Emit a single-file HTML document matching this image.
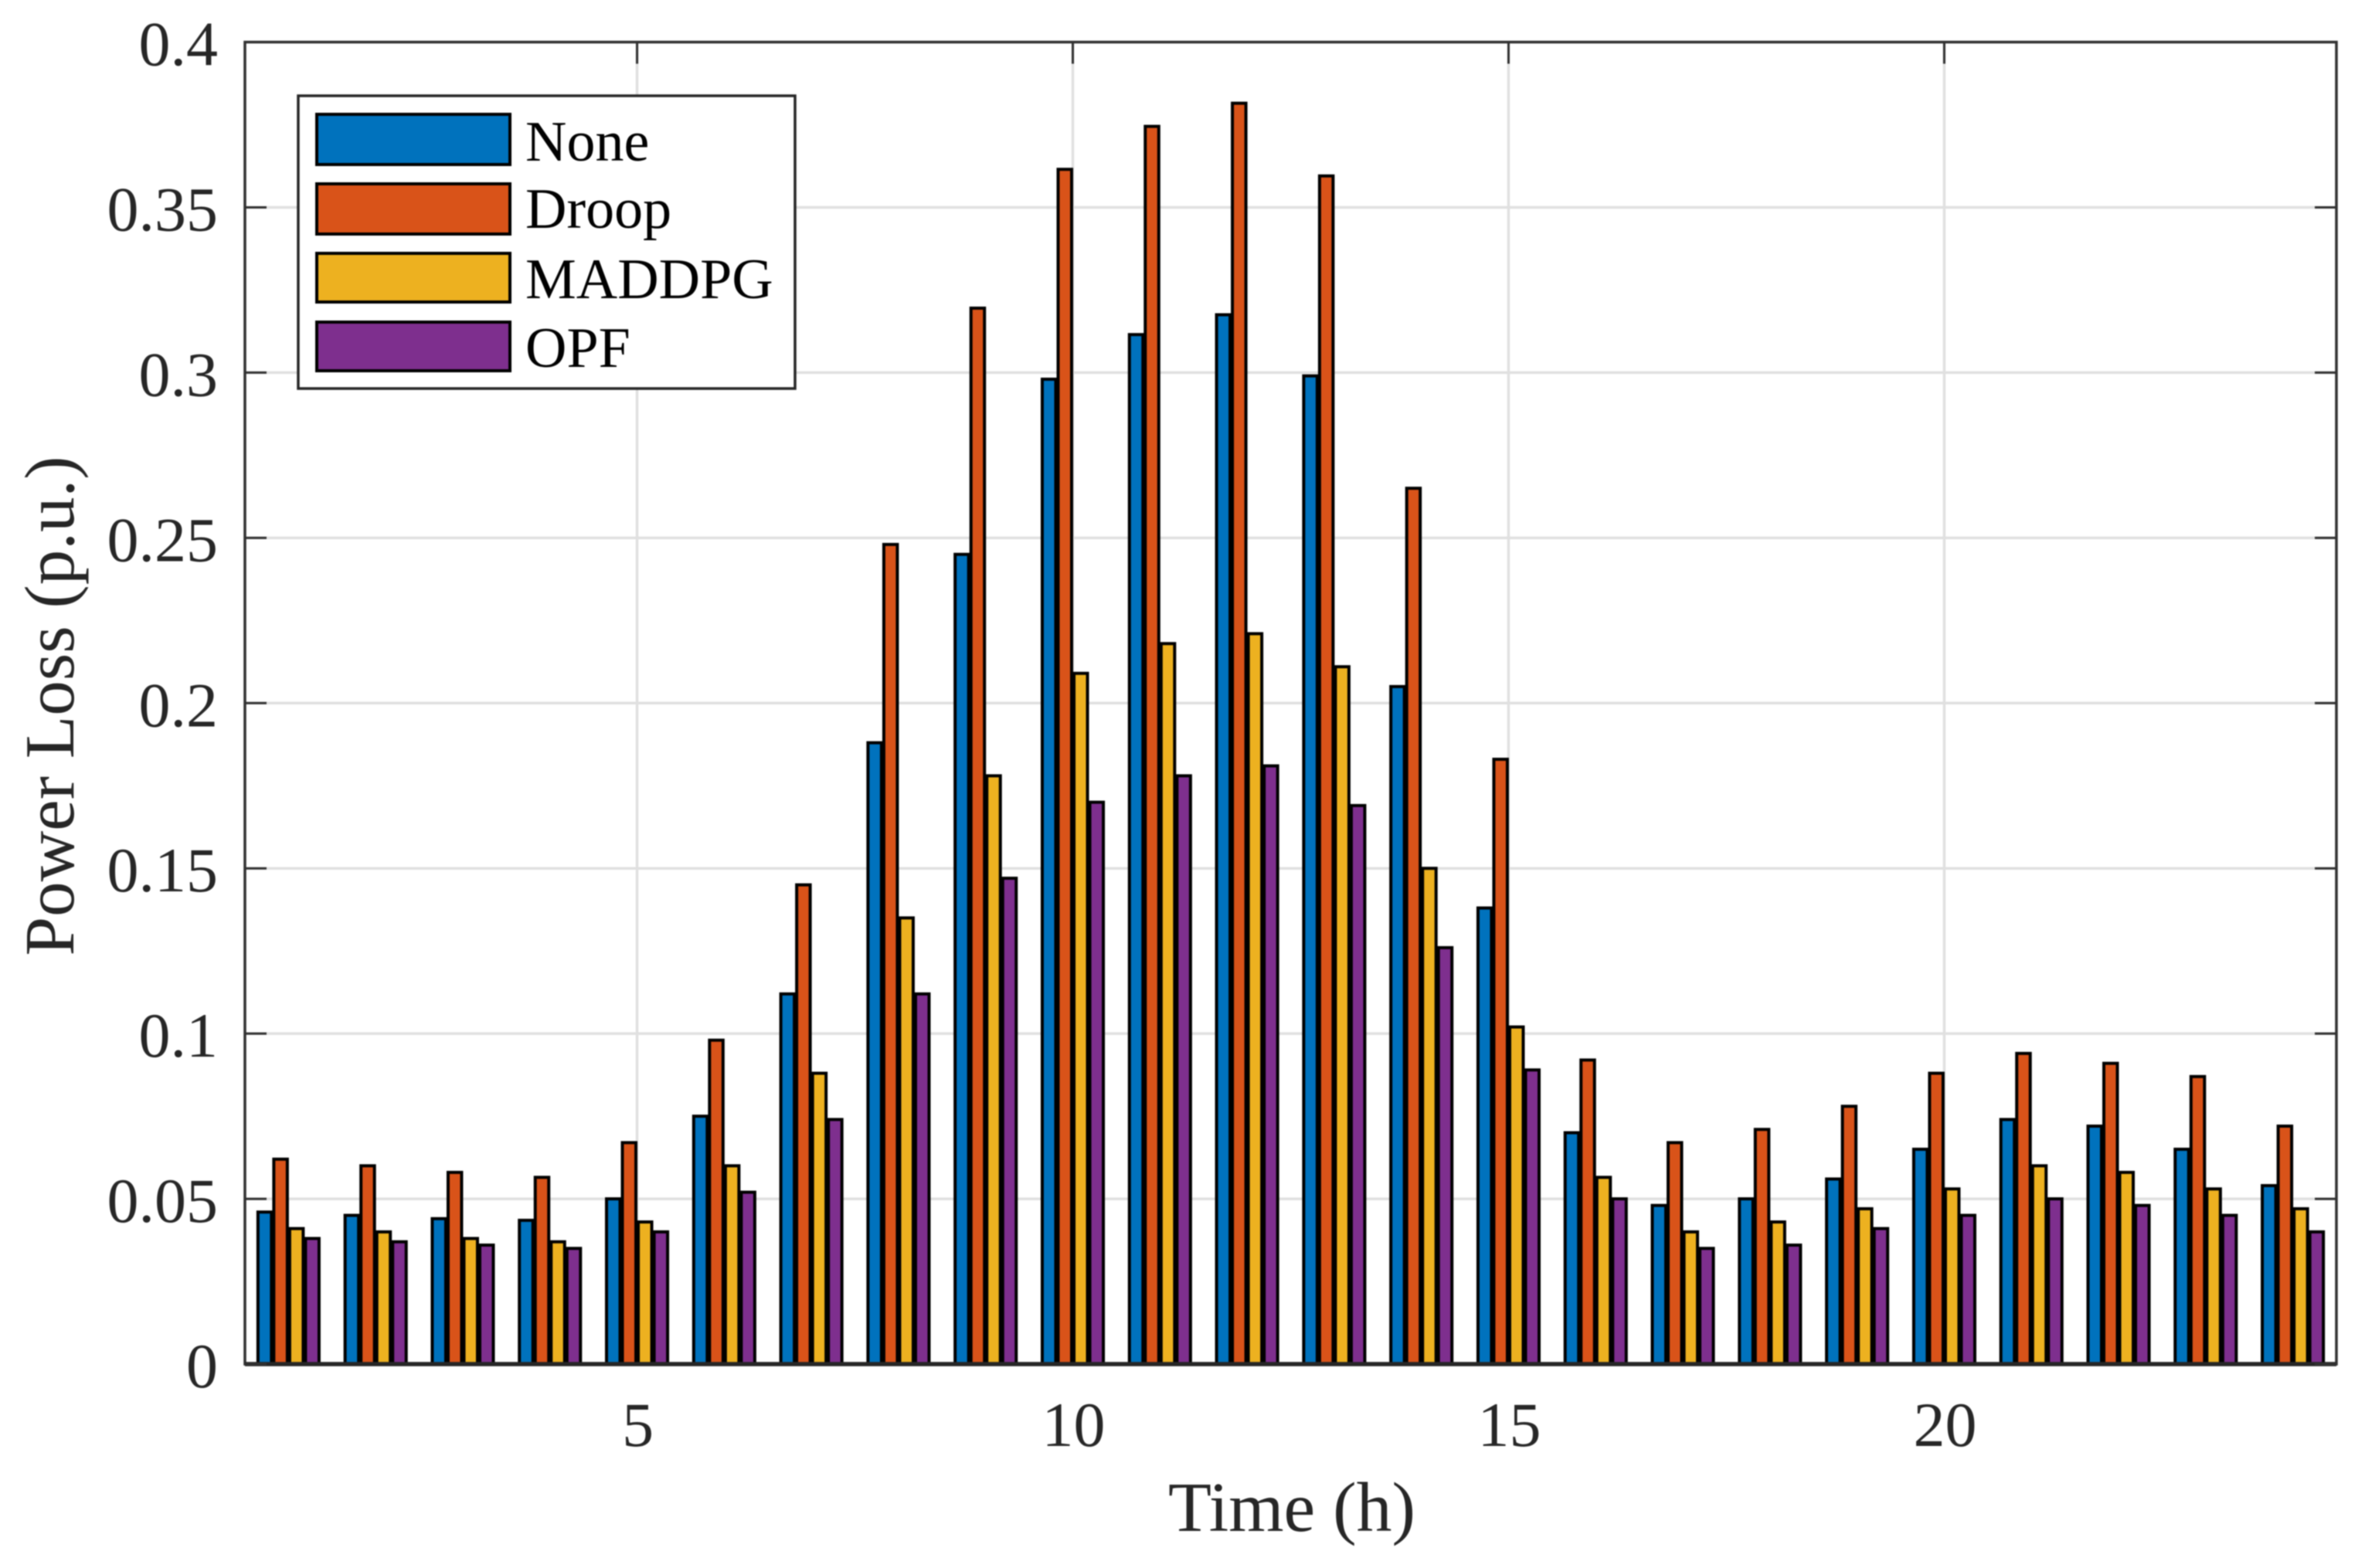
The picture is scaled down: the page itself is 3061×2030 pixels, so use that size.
<!DOCTYPE html>
<html lang="en">
<head>
<meta charset="utf-8">
<title>Power Loss by Hour</title>
<style>
html,body{margin:0;padding:0;background:#fff;}
body{width:3061px;height:2030px;overflow:hidden;}
svg{display:block;filter:blur(0.7px);}
text{font-family:"Liberation Serif","Times New Roman",serif;}
</style>
</head>
<body>
<svg id="chart" xmlns="http://www.w3.org/2000/svg" width="3061" height="2030" viewBox="0 0 3061 2030">
  <rect x="0" y="0" width="3061" height="2030" fill="#ffffff"/>
  <g id="grid"></g>
  <g id="bars"></g>
  <g id="axes"></g>
  <text x="1672" y="1982" font-size="91" fill="#262626" text-anchor="middle" textLength="320" lengthAdjust="spacingAndGlyphs">Time (h)</text>
  <text transform="translate(95,914) rotate(-90)" font-size="91" fill="#262626" text-anchor="middle">Power Loss (p.u.)</text>
  <g id="legend">
    <rect x="386" y="124" width="643" height="379" fill="#ffffff" stroke="#262626" stroke-width="3.5"/>
    <g>
      <rect x="410" y="148" width="250" height="65" fill="#0072BD" stroke="#000000" stroke-width="4"/>
      <text x="680" y="208" font-size="74" fill="#000000">None</text>
    </g>
    <g>
      <rect x="410" y="238" width="250" height="65" fill="#D95319" stroke="#000000" stroke-width="4"/>
      <text x="680" y="295" font-size="74" fill="#000000">Droop</text>
    </g>
    <g>
      <rect x="410" y="328" width="250" height="63" fill="#EDB120" stroke="#000000" stroke-width="4"/>
      <text x="680" y="386" font-size="74" fill="#000000">MADDPG</text>
    </g>
    <g>
      <rect x="410" y="417" width="250" height="63" fill="#7E2F8E" stroke="#000000" stroke-width="4"/>
      <text x="680" y="475" font-size="74" fill="#000000">OPF</text>
    </g>
  </g>
</svg>
<script>
const hours = [1,2,3,4,5,6,7,8,9,10,11,12,13,14,15,16,17,18,19,20,21,22,23,24];
const noneValues = [0.046,0.045,0.044,0.0435,0.05,0.075,0.112,0.188,0.245,0.298,0.3115,0.3175,0.299,0.205,0.138,0.07,0.048,0.05,0.056,0.065,0.074,0.072,0.065,0.054];
const droopValues = [0.062,0.06,0.058,0.0565,0.067,0.098,0.145,0.248,0.3195,0.3615,0.3745,0.3815,0.3595,0.265,0.183,0.092,0.067,0.071,0.078,0.088,0.094,0.091,0.087,0.072];
const maddpgValues = [0.041,0.04,0.038,0.037,0.043,0.06,0.088,0.135,0.178,0.209,0.218,0.221,0.211,0.15,0.102,0.0565,0.04,0.043,0.047,0.053,0.06,0.058,0.053,0.047];
const opfValues = [0.038,0.037,0.036,0.035,0.04,0.052,0.074,0.112,0.147,0.17,0.178,0.181,0.169,0.126,0.089,0.05,0.035,0.036,0.041,0.045,0.05,0.048,0.045,0.04];
const seriesNames = ['none','droop','maddpg','opf'];
const seriesColors = ['#0072BD','#D95319','#EDB120','#7E2F8E'];
const xTicks = [5,10,15,20];
const xTickLabels = ['5','10','15','20'];
const yTicks = [0,0.05,0.1,0.15,0.2,0.25,0.3,0.35,0.4];
const yTickLabels = ['0','0.05','0.1','0.15','0.2','0.25','0.3','0.35','0.4'];

const NS = 'http://www.w3.org/2000/svg';
const plotLeft = 317, plotRight = 3024, plotTop = 54.5, plotBottom = 1766;
const xMin = 0.5, xMax = 24.5, yMin = 0, yMax = 0.4;
const barPitchUnits = 0.182;

function xScale(v){ return plotLeft + (v - xMin) / (xMax - xMin) * (plotRight - plotLeft); }
function yScale(v){ return plotBottom - (v - yMin) / (yMax - yMin) * (plotBottom - plotTop); }
function make(tag, attrs, parent){
  const el = document.createElementNS(NS, tag);
  for (const k in attrs) el.setAttribute(k, attrs[k]);
  parent.appendChild(el);
  return el;
}

const gridGroup = document.getElementById('grid');
const barGroup = document.getElementById('bars');
const axesGroup = document.getElementById('axes');

yTicks.forEach(function(v){
  if (v === yMin || v === yMax) return;
  const line = make('line', {x1:plotLeft, x2:plotRight, y1:yScale(v), y2:yScale(v), stroke:'#e0e0e0', 'stroke-width':3.5}, gridGroup);
  
  
});
xTicks.forEach(function(v){
  const line = make('line', {x1:xScale(v), x2:xScale(v), y1:plotTop, y2:plotBottom, stroke:'#e0e0e0', 'stroke-width':3.5}, gridGroup);
  
  
});

const allSeries = [noneValues, droopValues, maddpgValues, opfValues];
const barWidth = 17.5;
allSeries.forEach(function(values, s){
  const group = make('g', {}, barGroup);
  
  
  values.forEach(function(v, i){
    const cx = xScale(hours[i] + (s - 1.5) * barPitchUnits);
    const top = yScale(v);
    const rect = make('rect', {x:cx - barWidth / 2, y:top, width:barWidth, height:yScale(0) - top, fill:seriesColors[s], stroke:'#000000', 'stroke-width':4}, group);
    
    
  });
});

const frame = make('rect', {x:plotLeft, y:plotTop, width:plotRight - plotLeft, height:plotBottom - plotTop, fill:'none', stroke:'#303030', 'stroke-width':3.5}, axesGroup);



const baseline = make('line', {x1:plotLeft, x2:plotRight, y1:plotBottom, y2:plotBottom, stroke:'#262626', 'stroke-width':5.5}, axesGroup);



const tickLen = 28;
yTicks.forEach(function(v, i){
  const y = yScale(v);
  const left = make('line', {x1:plotLeft, x2:plotLeft + tickLen, y1:y, y2:y, stroke:'#303030', 'stroke-width':3}, axesGroup);
  
  
  const right = make('line', {x1:plotRight - tickLen, x2:plotRight, y1:y, y2:y, stroke:'#303030', 'stroke-width':3}, axesGroup);
  
  
  const label = make('text', {x:282, y:y + 30, 'font-size':82, fill:'#262626', 'text-anchor':'end'}, axesGroup);
  
  
  label.textContent = yTickLabels[i];
});
xTicks.forEach(function(v, i){
  const x = xScale(v);
  const top = make('line', {x1:x, x2:x, y1:plotTop, y2:plotTop + tickLen, stroke:'#303030', 'stroke-width':3}, axesGroup);
  
  
  const label = make('text', {x:x + 1, y:1872, 'font-size':82, fill:'#262626', 'text-anchor':'middle'}, axesGroup);
  
  
  label.textContent = xTickLabels[i];
});
</script>
</body>
</html>
